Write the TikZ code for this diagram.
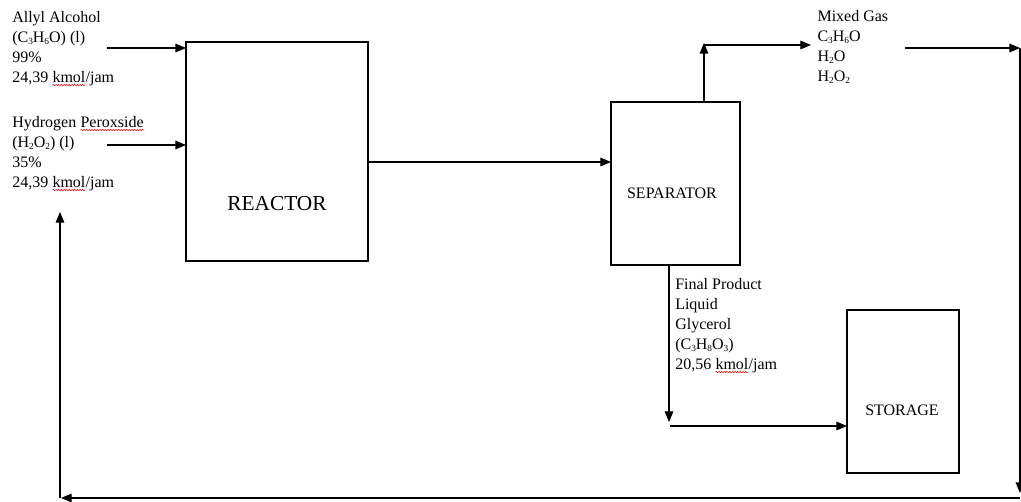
\documentclass[tikz,border=0pt]{standalone}
\usepackage{fontspec}
\setmainfont{Liberation Serif}
\usetikzlibrary{arrows.meta,positioning,calc,decorations.pathmorphing}
% red wavy spell-check underline
\newcommand{\spellerr}[1]{\tikz[baseline=(w.base)]{\node[inner sep=0pt,outer sep=0pt] (w) {#1};
 \draw[red,line width=0.4pt,decorate,decoration={snake,amplitude=0.5pt,segment length=2pt}] ([yshift=-2pt]w.base west) -- ([yshift=-2pt]w.base east);}}
% small subscript
\newcommand{\chemsub}[1]{\raisebox{-0.3ex}{\fontsize{7}{7}\selectfont #1}}
\begin{document}
\begin{tikzpicture}[>={Triangle[length=8pt,width=6.5pt]},x=0.75pt,y=-0.75pt,line width=0.8pt,
 box/.style={draw,rectangle,inner sep=0pt,outer sep=0pt},
 lab/.style={anchor=north west,align=left,inner sep=0pt,font=\fontsize{12}{15}\selectfont},
 unitlab/.style={inner sep=0pt,font=\fontsize{12}{15}\selectfont}]
\useasboundingbox (0,0) rectangle (1021,502);
\node[box,minimum width=136.5pt,minimum height=164.25pt] (reactor) at (277,151.5) {};
\node[box,minimum width=96.75pt,minimum height=122.25pt] (separator) at (675.5,183.5) {};
\node[box,minimum width=84pt,minimum height=122.25pt] (storage) at (903,391.5) {};
\node[unitlab,font=\fontsize{16}{19}\selectfont] (reactorlab) at (277,204) {REACTOR};
\node[unitlab] (separatorlab) at (672,193) {SEPARATOR};
\node[unitlab] (storagelab) at (902,410) {STORAGE};
\node[lab] (allyl) at (12,11) {Allyl Alcohol\\(C\chemsub{3}H\chemsub{6}O) (l)\\99\%\\24,39 \spellerr{kmol}/jam};
\node[lab] (peroxide) at (12,116) {Hydrogen \spellerr{Peroxside}\\(H\chemsub{2}O\chemsub{2}) (l)\\35\%\\24,39 \spellerr{kmol}/jam};
\node[lab] (gas) at (817,10) {Mixed Gas\\C\chemsub{3}H\chemsub{6}O\\H\chemsub{2}O\\H\chemsub{2}O\chemsub{2}};
\node[lab] (product) at (675,278) {Final Product\\Liquid\\Glycerol\\(C\chemsub{3}H\chemsub{8}O\chemsub{3})\\20,56 \spellerr{kmol}/jam};
% feeds
\coordinate (allylin) at (107,48);
\coordinate (peroxin) at (107,145);
\draw[->] (allylin) -- (allylin -| reactor.west);
\draw[->] (peroxin) -- (peroxin -| reactor.west);
\coordinate (feed) at (0,162);
\draw[->] (reactor.east |- feed) -- (separator.west |- feed);
% gas out
\coordinate (gastop) at (704,43);
\coordinate (gasend) at (811,45);
\draw[->] (separator.north -| gastop) -- (gastop);
\draw[->] (704,45) -- (gasend);
% recycle
\coordinate (rc1) at (905,48);
\coordinate (rc2) at (1020,48);
\coordinate (rc3) at (1020,493);
\coordinate (rc4) at (1020,498);
\coordinate (rc5) at (61,498);
\coordinate (rc6) at (60,498);
\coordinate (rc7) at (60,212);
\draw[->] (rc1) -- (rc2);
\draw[->] (rc2) -- (rc3);
\draw[->] (rc4) -- (rc5);
\draw[->] (rc6) -- (rc7);
% product
\coordinate (proddown) at (669,422);
\coordinate (prodturn) at (670,426);
\draw[->] (separator.south -| proddown) -- (proddown);
\draw[->] (prodturn) -- (prodturn -| storage.west);
\end{tikzpicture}
\end{document}
